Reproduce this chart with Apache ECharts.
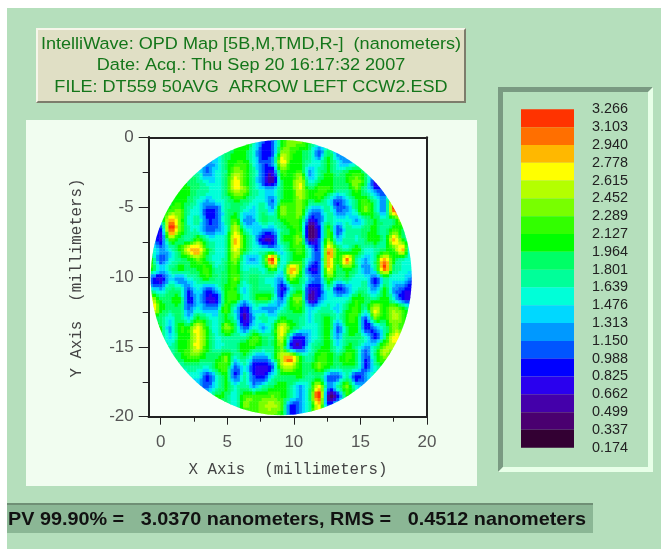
<!DOCTYPE html>
<html><head><meta charset="utf-8">
<style>html,body{margin:0;padding:0;background:#fff}#c{width:661px;height:549px}</style>
<script src="https://cdn.jsdelivr.net/npm/echarts@6/dist/echarts.min.js"></script>
</head><body><div id="c"></div>
<script>
const _ = null;
// OPD (nm), top row first; 0.7 mm cells
const r00=[_,_,_,_,_,_,_,_,_,2.0,2.1,1.7,1.0,1.1,2.0,2.4,2.3,2.0,1.7,1.5,_,_,_,_,_,_,_,_,_];
const r01=[_,_,_,_,_,_,_,1.5,1.8,2.0,2.1,1.5,.95,1.0,2.3,2.2,2.0,1.8,1.0,1.9,1.2,1.4,_,_,_,_,_,_,_];
const r02=[_,_,_,_,_,1.7,1.3,1.4,1.9,2.1,2.1,1.6,1.0,1.3,2.7,2.1,2.0,1.7,1.5,2.0,1.5,1.2,1.6,1.8,_,_,_,_,_];
const r03=[_,_,_,_,1.9,1.6,1.1,1.5,1.8,2.4,2.2,1.7,1.1,.8,2.2,2.0,2.2,1.3,1.7,2.0,1.7,1.9,2.1,1.8,1.5,_,_,_,_];
const r04=[_,_,_,2.0,1.9,1.8,1.5,1.5,1.9,2.7,2.2,1.7,1.0,.6,1.9,2.1,2.6,1.5,1.9,2.1,1.9,2.0,2.4,1.9,.7,1.1,_,_,_];
const r05=[_,_,1.9,2.0,2.0,1.8,1.7,1.5,1.9,2.6,2.3,1.8,1.5,1.4,1.9,2.1,2.6,2.0,2.2,2.1,1.7,1.8,2.2,1.7,1.2,1.0,1.6,_,_];
const r06=[_,1.7,1.9,2.1,1.9,1.6,1.3,1.5,1.7,2.0,1.9,1.6,1.6,1.1,2.0,2.1,2.4,1.9,2.0,1.6,1.0,1.4,1.9,2.2,1.7,1.3,2.8,2.3,_];
const r07=[_,1.8,2.2,2.3,1.7,1.5,.95,1.0,1.7,1.9,1.6,1.4,1.8,1.4,2.4,2.2,2.4,1.4,1.2,1.8,1.1,1.3,1.8,2.3,1.8,1.2,3.1,2.8,_];
const r08=[1.5,1.6,2.9,2.4,1.6,1.7,1.0,1.1,1.7,2.2,1.3,1.3,1.9,1.7,2.0,2.2,2.1,.8,1.1,1.7,1.5,1.6,1.3,1.7,2.0,1.7,1.9,2.6,2.6];
const r09=[1.6,.9,3.1,2.4,1.7,1.6,1.1,1.2,1.6,2.6,1.8,1.4,1.3,1.2,1.8,2.0,2.1,.4,.9,2.2,1.0,1.7,1.7,1.9,2.0,1.7,2.2,1.9,1.9];
const r10=[1.3,.8,2.2,1.9,1.8,2.2,1.7,1.6,1.7,2.8,2.1,1.6,.75,.75,1.9,2.0,2.3,.6,1.0,2.3,1.4,1.8,1.6,1.9,2.1,1.8,2.8,2.1,1.5];
const r11=[1.7,1.2,1.5,2.0,2.7,2.9,2.0,1.6,1.7,2.7,2.0,1.6,1.6,1.5,1.5,2.0,2.2,1.5,1.0,2.9,2.0,1.7,2.1,1.6,1.7,1.9,2.2,2.8,1.0];
const r12=[2.0,1.0,1.5,1.8,2.0,2.3,1.9,1.5,1.8,2.4,1.5,1.3,1.9,3.2,1.5,1.9,2.1,1.4,1.1,2.9,2.0,3.0,1.8,1.3,1.8,2.9,2.0,1.7,1.5];
const r13=[2.1,1.4,1.7,2.0,1.9,2.0,2.2,1.7,1.9,2.2,1.6,1.7,1.6,2.2,1.5,2.9,2.2,.9,1.0,2.7,1.9,2.1,1.8,1.2,1.7,3.0,1.9,1.6,1.5];
const r14=[1.0,.7,1.4,1.2,1.5,1.8,2.0,1.8,1.9,2.3,1.7,1.9,1.7,1.5,1.3,2.3,1.9,1.3,1.1,2.2,1.7,1.9,1.5,1.6,.95,1.7,1.5,1.5,1.1];
const r15=[1.5,1.3,1.8,1.7,1.1,1.5,1.1,1.4,2.0,2.1,1.4,1.9,1.7,1.7,.8,1.6,1.9,.8,.9,1.7,.9,1.2,1.6,1.7,1.2,2.0,1.3,1.0,.8];
const r16=[2.5,1.9,1.9,2.0,.85,1.4,.8,.85,2.0,2.2,1.5,1.9,2.2,1.8,1.1,2.1,2.3,.6,1.0,1.6,1.5,1.6,2.1,1.9,1.7,2.1,1.5,.9,.8];
const r17=[3.0,2.1,1.9,1.9,1.1,1.5,1.2,1.3,2.2,1.5,.8,1.5,1.3,1.2,1.5,2.0,2.1,1.4,1.6,1.7,1.4,1.9,2.2,1.8,2.6,2.1,2.4,2.0,1.6];
const r18=[2.0,1.9,1.5,1.9,1.4,2.0,1.7,1.5,2.0,1.6,.6,1.3,1.8,1.5,2.0,1.9,1.8,1.4,1.8,2.0,1.6,2.1,2.1,1.1,2.3,2.0,2.5,2.2,2.0];
const r19=[_,2.0,1.3,2.1,2.1,2.7,2.0,1.5,2.4,1.9,1.0,1.6,1.3,1.8,2.7,2.1,1.7,1.5,1.7,2.1,1.1,1.9,2.0,.9,1.2,1.7,2.3,2.2,2.0];
const r20=[_,2.0,1.4,2.0,2.1,2.7,2.1,1.6,1.8,1.7,1.8,2.2,1.9,1.8,2.6,1.2,.85,1.4,1.7,2.0,1.3,1.9,1.9,1.6,.95,1.8,2.7,2.6,_];
const r21=[_,_,1.7,2.0,2.2,2.7,2.0,1.6,1.7,1.8,2.1,2.0,1.8,1.8,2.3,1.0,.8,1.6,1.9,2.1,1.5,2.0,1.8,1.2,1.7,2.4,2.5,2.0,_];
const r22=[_,_,1.7,1.9,2.2,2.2,1.9,1.9,2.3,1.6,1.9,1.3,1.2,1.7,2.6,2.9,2.0,1.7,2.2,2.1,1.9,2.2,1.9,1.0,1.8,2.4,2.0,_,_];
const r23=[_,_,_,1.6,1.8,1.7,1.6,2.0,2.2,1.1,1.6,.9,.75,1.1,2.4,2.5,2.0,1.9,2.3,2.0,1.8,1.9,1.8,.95,1.6,1.9,_,_,_];
const r24=[_,_,_,1.5,1.5,1.5,.95,1.5,2.0,1.0,1.7,1.0,.9,1.6,1.9,1.9,2.0,1.7,1.9,1.1,1.1,1.7,.85,1.3,1.7,1.6,_,_,_];
const r25=[_,_,_,_,1.5,1.3,1.1,1.6,2.0,1.6,1.8,1.3,1.7,1.9,2.1,1.8,1.3,1.8,2.7,1.2,1.7,2.3,1.5,1.2,1.5,_,_,_,_];
const r26=[_,_,_,_,_,1.4,1.5,2.0,1.9,1.5,2.2,2.2,2.2,2.3,2.1,1.7,1.3,1.9,3.2,.55,.9,2.0,1.6,_,_,_,_,_,_];
const r27=[_,_,_,_,_,_,_,1.9,1.8,1.6,2.3,2.2,2.4,2.5,2.2,.95,1.2,1.7,2.7,1.1,1.7,1.7,_,_,_,_,_,_,_];
const r28=[_,_,_,_,_,_,_,_,_,2.0,2.1,2.2,2.3,2.3,2.0,1.0,1.2,2.0,2.6,1.9,_,_,_,_,_,_,_,_,_];
const mapRows=[r00,r01,r02,r03,r04,r05,r06,r07,r08,r09,r10,r11,r12,r13,r14,r15,r16,r17,r18,r19,r20,r21,r22,r23,r24,r25,r26,r27,r28];
const legendLevels=[3.266,3.103,2.940,2.778,2.615,2.452,2.289,2.127,1.964,1.801,1.639,1.476,1.313,1.150,0.988,0.825,0.662,0.499,0.337,0.174];
const legendColors=['#ff3300','#ff6f00','#ffb800','#ffff00','#b4ff00','#78ff00','#32ff00','#00ff00','#00ff66','#00ff99','#00ffd8','#00d8ff','#0099ff','#0055ff','#0000ff','#2a00ee','#4400aa','#4a0070','#330033'];
const xTicks=[0,5,10,15,20], xMinor=[2.5,7.5,12.5,17.5];
const yTicks=[0,-5,-10,-15,-20], yMinor=[-2.5,-7.5,-12.5,-17.5];
const titleLines=['IntelliWave: OPD Map [5B,M,TMD,R-]  (nanometers)','Date: Acq.: Thu Sep 20 16:17:32 2007','FILE: DT559 50AVG  ARROW LEFT CCW2.ESD'];
const statusText='PV 99.90% =   3.0370 nanometers, RMS =   0.4512 nanometers';

const cell=0.7, x0=-0.7, y0=-0.35, cx=9.05, cy=-10.04, rx=9.8, ry=9.85, shade=3;
const mapData=[];
mapRows.forEach((row,k)=>row.forEach((v,j)=>{ if(v!==null) mapData.push([x0+j*cell,y0-k*cell,v,k,j]); }));
function bandColor(v){
  for(let i=0;i<legendColors.length;i++){ if(v>=legendLevels[i+1]) return legendColors[i]; }
  return legendColors[legendColors.length-1];
}
// Colour shading across a cell follows the neighbouring read values, as the instrument's contour display does.
function at(k,j,own){ const r=mapRows[k]; const v=r?r[j]:null; return (v===null||v===undefined)?own:v; }
function cr(p0,p1,p2,p3,t){ return p1+0.5*t*(p2-p0+t*(2*p0-5*p1+4*p2-p3+t*(3*(p1-p2)+p3-p0))); }
function shadeAt(k,j,own,u,w){ // u,w in -0.5..0.5 across the cell
  const j0=u<0?j-1:j, k0=w<0?k-1:k, tx=u<0?u+1:u, ty=w<0?w+1:w, col=[];
  for(let a=-1;a<=2;a++){ const q=k0+a;
    col.push(cr(at(q,j0-1,own),at(q,j0,own),at(q,j0+1,own),at(q,j0+2,own),tx)); }
  return cr(col[0],col[1],col[2],col[3],ty);
}
const legendData=legendColors.map((c,i)=>[legendLevels[i+1],legendLevels[i]]);
const bg='#b5dfbc';
function R(x,y,w,h,fill,z){return {type:'rect',silent:true,z:z||-5,shape:{x,y,width:w,height:h},style:{fill}};}
function P(points,fill,z){return {type:'polygon',silent:true,z:z||-4,shape:{points},style:{fill}};}
function T(x,y,text,font,fill,align,sx){return {type:'text',silent:true,z:20,x,y,scaleX:sx||1,style:{text,font,fill,align:align||'center',verticalAlign:'middle'}};}
const axisFont='"Liberation Mono"';
const chart=echarts.init(document.getElementById('c'),null,{renderer:'canvas'});
const mkX=(gi,customs,len,labels)=>({type:'value',gridIndex:gi,min:-0.9,max:20,position:'bottom',
  axisLine:{show:true,onZero:false,lineStyle:{color:'#222',width:2}},splitLine:{show:false},
  axisTick:{show:true,inside:false,length:len,customValues:customs,lineStyle:{color:'#222',width:1}},
  axisLabel:labels?{show:true,customValues:customs,color:'#555',fontFamily:'Liberation Sans',fontSize:17,margin:17}:{show:false}});
const mkY=(gi,customs,len,labels)=>({type:'value',gridIndex:gi,min:-20,max:0,position:'left',
  axisLine:{show:true,onZero:false,lineStyle:{color:'#222',width:2}},splitLine:{show:false},
  axisTick:{show:true,length:len,customValues:customs,lineStyle:{color:'#222',width:1}},
  axisLabel:labels?{show:true,customValues:customs,color:'#555',fontFamily:'Liberation Sans',fontSize:17,margin:15}:{show:false}});
chart.setOption({
  animation:false,
  graphic:{elements:[
    R(7,8,654,541,bg,-9),
    R(36,28,430,75,'#e0dfc5'),
    P([[36,28],[466,28],[464,30],[38,30],[38,101],[36,103]],'#f6f6ea'),
    P([[466,28],[466,103],[36,103],[38,101],[464,101],[464,30]],'#7d7d6c'),
    T(251,45,titleLines[0],'16.3px "Liberation Sans"','#14761a','center',1.11),
    T(251,66,titleLines[1],'16.3px "Liberation Sans"','#14761a','center',1.11),
    T(251,88,titleLines[2],'16.3px "Liberation Sans"','#14761a','center',1.11),
    R(26,120,451,366,'#f1fdf0'),
    R(149,137,278,280,'#f9fff9'),
    T(288,470,'X Axis  (millimeters)','15.8px '+axisFont,'#444'),
    {type:'text',silent:true,z:20,x:77,y:278,rotation:Math.PI/2,style:{text:'Y Axis  (millimeters)',font:'15.8px '+axisFont,fill:'#444',align:'center',verticalAlign:'middle'}},
    P([[498,87],[653,87],[648,92],[503,92],[503,467],[498,472]],'#7a9a82'),
    P([[653,87],[653,472],[498,472],[503,467],[648,467],[648,92]],'#e8ffe8'),
    R(7,503,586,30,'#8bb795'),
    R(7,503,586,2,'#6f8f75',-4),
    T(8,520,statusText,'bold 17.7px "Liberation Sans"','#111','left',1.12)
  ]},
  grid:[
    {left:148.7,top:137.3,width:278.3,height:279.4,show:false},
    {left:521,top:109.3,width:53,height:338.4,show:false}
  ],
  xAxis:[
    mkX(0,xTicks,8,true),
    mkX(0,xMinor,5,false),
    {type:'value',gridIndex:0,min:-0.9,max:20,position:'top',axisLine:{show:true,onZero:false,lineStyle:{color:'#222',width:2}},axisTick:{show:false},axisLabel:{show:false},splitLine:{show:false}},
    {type:'value',gridIndex:1,min:0,max:1,show:false}
  ],
  yAxis:[
    mkY(0,yTicks,10,true),
    mkY(0,yMinor,6,false),
    {type:'value',gridIndex:0,min:-20,max:0,position:'right',axisLine:{show:true,onZero:false,lineStyle:{color:'#222',width:2}},axisTick:{show:false},axisLabel:{show:false},splitLine:{show:false}},
    {type:'value',gridIndex:1,min:0.174,max:3.266,position:'right',axisLine:{show:false},axisTick:{show:false},splitLine:{show:false},
      axisLabel:{show:true,customValues:legendLevels,formatter:v=>v.toFixed(3),color:'#222',fontFamily:'Liberation Sans',fontSize:14.4,margin:18}}
  ],
  series:[
    {type:'custom',xAxisIndex:0,yAxisIndex:0,z:1,clip:false,silent:true,data:mapData,encode:{x:0,y:1},
      renderItem(params,api){
        const x=api.value(0),y=api.value(1),v=api.value(2),k=api.value(3),j=api.value(4);
        const a=api.coord([x-cell/2,y+cell/2]),b=api.coord([x+cell/2,y-cell/2]);
        const c=api.coord([cx,cy]),s=api.size([rx,ry]);
        const w=(b[0]-a[0])/shade,h=(b[1]-a[1])/shade,children=[];
        for(let m=0;m<shade;m++)for(let n=0;n<shade;n++){
          const u=(n+0.5)/shade-0.5,t=(m+0.5)/shade-0.5;
          children.push({type:'rect',shape:{x:a[0]+n*w,y:a[1]+m*h,width:w+0.4,height:h+0.4},style:{fill:bandColor(shadeAt(k,j,v,u,t))}});
        }
        return {type:'group',children,clipPath:{type:'ellipse',shape:{cx:c[0],cy:c[1],rx:s[0],ry:s[1]}}};
      }},
    {type:'custom',xAxisIndex:3,yAxisIndex:3,z:1,silent:true,data:legendData,encode:{y:[0,1]},
      renderItem(params,api){
        const a=api.coord([0,api.value(1)]),b=api.coord([1,api.value(0)]);
        return {type:'rect',shape:{x:a[0],y:a[1],width:b[0]-a[0],height:b[1]-a[1]},style:{fill:legendColors[params.dataIndex]}};
      }}
  ]
});
</script></body></html>
